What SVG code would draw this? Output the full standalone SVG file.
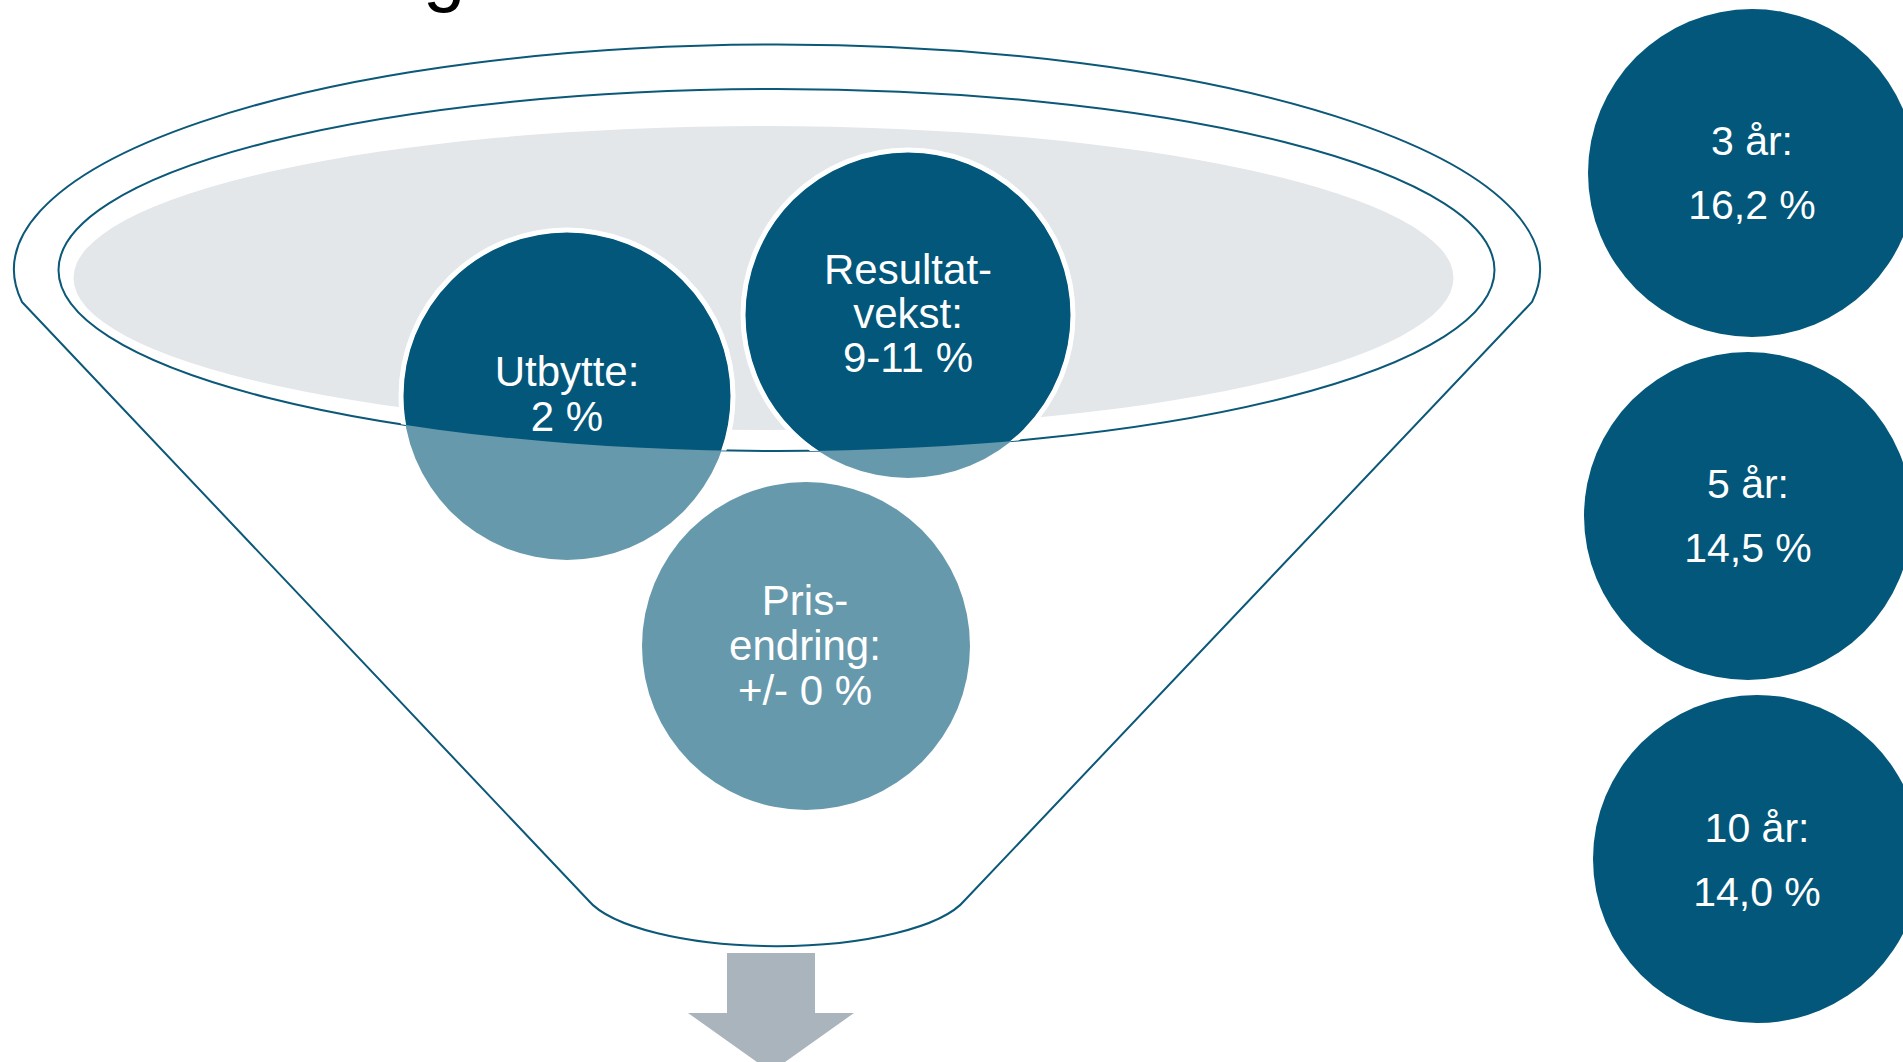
<svg xmlns="http://www.w3.org/2000/svg" width="1903" height="1062" viewBox="0 0 1903 1062">
  <style>
    .line { fill: none; stroke: #0B5878; stroke-width: 2; }
    .dark { fill: #02577A; }
    .light { fill: #6799AD; }
    .ring { fill: none; stroke: #FFFFFF; stroke-width: 5; }
    .lbl { font-family: "Liberation Sans", Arial, sans-serif; font-size: 42px; fill: #FFFFFF; text-anchor: middle; }
    .lbl2 { font-family: "Liberation Sans", Arial, sans-serif; font-size: 41px; fill: #FFFFFF; text-anchor: middle; }
    .title { font-family: "Liberation Sans", Arial, sans-serif; font-size: 76px; fill: #000000; }
  </style>
  <defs>
    <clipPath id="rim">
      <ellipse cx="776.5" cy="270" rx="718" ry="181"/>
    </clipPath>
  </defs>
  <rect width="1903" height="1062" fill="#FFFFFF"/>
  <text class="title" x="423" y="-3">g</text>

  <g id="funnel">
    <path class="line" d="M 22 302 L 588 900 A 195 62 0 0 0 965 900 L 1532 302 A 763 225 0 1 0 22 302 Z"/>
    <ellipse class="line" cx="776.5" cy="270" rx="718" ry="181"/>
    <ellipse cx="763.5" cy="278" rx="690" ry="152" fill="#E3E7EA"/>
  </g>

  <g id="arrow">
    <polygon points="727,953 815,953 815,1013 854,1013 771,1072 688,1013 727,1013" fill="#AAB4BC"/>
  </g>

  <g id="utbytte">
    <circle class="light" cx="567" cy="396" r="164"/>
    <g clip-path="url(#rim)">
      <circle class="dark" cx="567" cy="396" r="164"/>
      <circle class="ring" cx="567" cy="396" r="166"/>
    </g>
    <text class="lbl" x="567" y="386">Utbytte:</text>
    <text class="lbl" x="567" y="431">2 %</text>
  </g>

  <g id="resultatvekst">
    <circle class="light" cx="908" cy="315" r="163"/>
    <g clip-path="url(#rim)">
      <circle class="dark" cx="908" cy="315" r="163"/>
      <circle class="ring" cx="908" cy="315" r="165"/>
    </g>
    <text class="lbl" x="908" y="284">Resultat-</text>
    <text class="lbl" x="908" y="328">vekst:</text>
    <text class="lbl" x="908" y="372">9-11 %</text>
  </g>

  <g id="prisendring">
    <circle class="light" cx="806" cy="646" r="164"/>
    <text class="lbl" x="805" y="615">Pris-</text>
    <text class="lbl" x="805" y="660">endring:</text>
    <text class="lbl" x="805" y="705">+/- 0 %</text>
  </g>

  <g id="ar3">
    <circle class="dark" cx="1752" cy="173" r="164"/>
    <text class="lbl2" x="1752" y="155">3 år:</text>
    <text class="lbl2" x="1752" y="219">16,2 %</text>
  </g>

  <g id="ar5">
    <circle class="dark" cx="1748" cy="516" r="164"/>
    <text class="lbl2" x="1748" y="498">5 år:</text>
    <text class="lbl2" x="1748" y="562">14,5 %</text>
  </g>

  <g id="ar10">
    <circle class="dark" cx="1757" cy="859" r="164"/>
    <text class="lbl2" x="1757" y="842">10 år:</text>
    <text class="lbl2" x="1757" y="906">14,0 %</text>
  </g>

  <g id="connectors"></g>
</svg>
